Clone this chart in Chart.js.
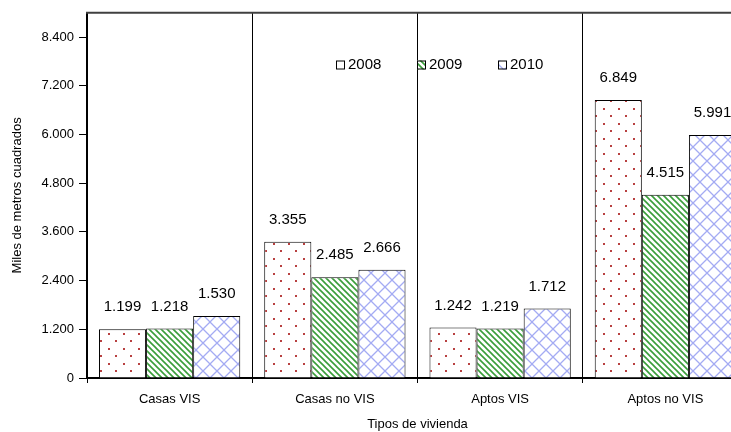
<!DOCTYPE html>
<html>
<head>
<meta charset="utf-8">
<script src="https://cdn.jsdelivr.net/npm/chart.js@4/dist/chart.umd.min.js"></script>
<style>
  html, body { margin: 0; padding: 0; background: #fff; overflow: hidden; }
  #wrap { position: relative; width: 760px; height: 432px; }
</style>
</head>
<body>
<div id="wrap"><canvas id="chartViv"></canvas></div>
<script>
// datos
const tipos = ['Casas VIS', 'Casas no VIS', 'Aptos VIS', 'Aptos no VIS'];
const anios = ['2008', '2009', '2010'];
const m2_2008 = [1199, 3355, 1242, 6849];
const m2_2009 = [1218, 2485, 1219, 4515];
const m2_2010 = [1530, 2666, 1712, 5991];
const yTicks = [0, 1200, 2400, 3600, 4800, 6000, 7200, 8400];

const FONT = "'Liberation Sans', Arial, sans-serif";

// formato con punto de miles
function fmt(v) {
  return String(v).replace(/\B(?=(\d{3})+(?!\d))/g, '.');
}

// tramas tipo Excel
function puntos() {
  const c = document.createElement('canvas');
  c.width = 15; c.height = 15;
  const g = c.getContext('2d');
  g.fillStyle = '#fff'; g.fillRect(0, 0, 15, 15);
  g.fillStyle = '#b84040';
  g.fillRect(3, 3, 2, 2);
  g.fillRect(10, 10, 2, 2);
  return g.createPattern(c, 'repeat');
}
function rayas() {
  const c = document.createElement('canvas');
  c.width = 6; c.height = 6;
  const g = c.getContext('2d');
  g.fillStyle = '#fff'; g.fillRect(0, 0, 6, 6);
  g.strokeStyle = '#3a9e3a'; g.lineWidth = 1.6;
  g.beginPath();
  g.moveTo(-1, -1); g.lineTo(7, 7);
  g.moveTo(-4, 2); g.lineTo(4, 10);
  g.moveTo(2, -4); g.lineTo(10, 4);
  g.stroke();
  return g.createPattern(c, 'repeat');
}
function cuadros() {
  const c = document.createElement('canvas');
  c.width = 14; c.height = 14;
  const g = c.getContext('2d');
  g.fillStyle = '#fff'; g.fillRect(0, 0, 14, 14);
  g.strokeStyle = '#a4abf3'; g.lineWidth = 1.3;
  g.beginPath();
  g.moveTo(0, 0); g.lineTo(14, 14);
  g.moveTo(14, 0); g.lineTo(0, 14);
  g.stroke();
  return g.createPattern(c, 'repeat');
}

const tramas = [puntos(), rayas(), cuadros()];

// etiquetas de valor sobre las barras
const etiquetas = {
  id: 'etiquetas',
  afterDatasetsDraw(chart) {
    const ctx = chart.ctx;
    ctx.save();
    ctx.font = '15px ' + FONT;
    ctx.fillStyle = '#000';
    ctx.textAlign = 'center';
    ctx.textBaseline = 'middle';
    chart.data.datasets.forEach((ds, i) => {
      chart.getDatasetMeta(i).data.forEach((bar, j) => {
        ctx.fillText(fmt(ds.data[j]), bar.x, bar.y - 22);
      });
    });
    ctx.restore();
  }
};

// marco superior y leyenda dentro del area
const marco = {
  id: 'marco',
  afterDraw(chart) {
    const ctx = chart.ctx;
    const a = chart.chartArea;
    ctx.save();
    ctx.strokeStyle = '#404040';
    ctx.lineWidth = 2;
    ctx.beginPath();
    ctx.moveTo(a.left - 1, a.top);
    ctx.lineTo(a.right + 20, a.top);
    ctx.stroke();

    ctx.font = '15px ' + FONT;
    ctx.textBaseline = 'middle';
    ctx.textAlign = 'left';
    let x = 336;
    const y = 65;
    chart.data.datasets.forEach((ds) => {
      ctx.fillStyle = ds.backgroundColor;
      ctx.fillRect(x, y - 4.5, 9, 9);
      ctx.strokeStyle = '#000';
      ctx.lineWidth = 1;
      ctx.strokeRect(x + 0.5, y - 4, 8, 8);
      ctx.fillStyle = '#000';
      ctx.fillText(ds.label, x + 12, y);
      x += 81;
    });
    ctx.restore();
  }
};

const config = {
  type: 'bar',
  data: {
    labels: tipos,
    datasets: [
      { label: anios[0], data: m2_2008, backgroundColor: tramas[0] },
      { label: anios[1], data: m2_2009, backgroundColor: tramas[1] },
      { label: anios[2], data: m2_2010, backgroundColor: tramas[2] }
    ]
  },
  options: {
    responsive: true,
    maintainAspectRatio: false,
    animation: false,
    devicePixelRatio: 1,
    layout: { padding: { top: 12, right: 12, left: 0, bottom: 0 } },
    datasets: {
      bar: {
        borderColor: '#000',
        borderWidth: 1,
        categoryPercentage: 0.855,
        barPercentage: 1
      }
    },
    scales: {
      x: {
        grid: { offset: true, color: '#000', lineWidth: 1, tickLength: 5, drawOnChartArea: true },
        border: { color: '#000', width: 2 },
        ticks: { color: '#000', font: { family: FONT, size: 13 }, padding: 9, maxRotation: 0 },
        title: { display: true, text: 'Tipos de vivienda', color: '#000', font: { family: FONT, size: 13 }, padding: { top: 0, bottom: 0 } },
        afterFit(scale) { scale.height = 54; }
      },
      y: {
        min: 0,
        max: 9000,
        grid: { drawOnChartArea: false, color: '#000', tickLength: 8 },
        border: { color: '#000', width: 2 },
        ticks: {
          stepSize: 1200,
          color: '#000',
          padding: 5,
          font: { family: FONT, size: 13 },
          callback: (v) => fmt(v)
        },
        afterBuildTicks(scale) {
          scale.ticks = yTicks.map(v => ({ value: v }));
        },
        title: { display: true, text: 'Miles de metros cuadrados', color: '#000', font: { family: FONT, size: 13 }, padding: { top: 10, bottom: 0 } },
        afterFit(scale) { scale.width = 87; }
      }
    },
    plugins: {
      legend: { display: false },
      tooltip: { enabled: false }
    }
  },
  plugins: [etiquetas, marco]
};

const vivChart = new Chart(document.getElementById('chartViv'), config);
</script>
</body>
</html>
